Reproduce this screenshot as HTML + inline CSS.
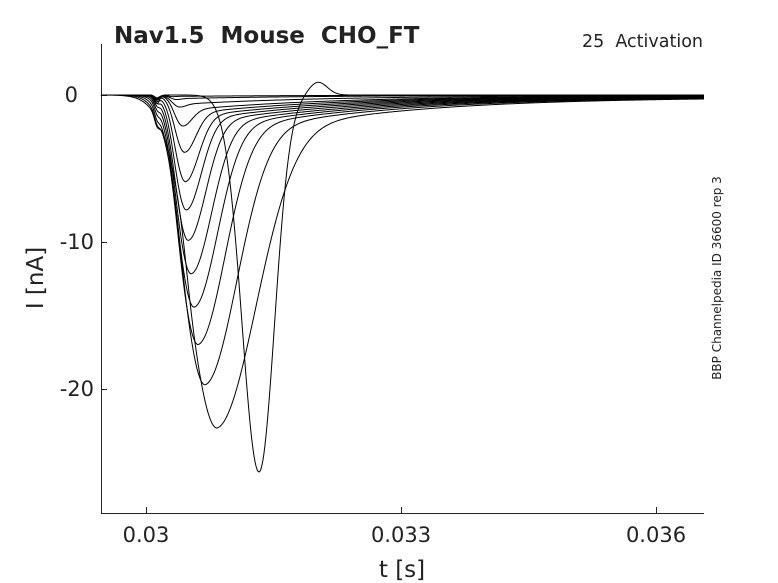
<!DOCTYPE html>
<html><head><meta charset="utf-8"><style>
body{margin:0;background:#fff}
svg{display:block}
text{font-family:"DejaVu Sans","Liberation Sans",sans-serif;fill:#222;white-space:pre}
</style></head><body>
<svg id="s" width="778" height="583" viewBox="0 0 778 583" xmlns="http://www.w3.org/2000/svg" xml:space="preserve">
<rect width="778" height="583" fill="#fff"/>
<g stroke="#262626" stroke-width="1" fill="none">
<line x1="101.5" y1="44" x2="101.5" y2="513.5"/>
<line x1="101" y1="513.5" x2="704" y2="513.5"/>
<line x1="101" y1="95.5" x2="107" y2="95.5"/>
<line x1="101" y1="242.5" x2="107" y2="242.5"/>
<line x1="101" y1="389.5" x2="107" y2="389.5"/>
<line x1="146.5" y1="513" x2="146.5" y2="507"/>
<line x1="401.5" y1="513" x2="401.5" y2="507"/>
<line x1="656.5" y1="513" x2="656.5" y2="507"/>
</g>
<g font-size="21" text-anchor="end">
<text x="78" y="102">0</text>
<text x="94" y="249">-10</text>
<text x="94" y="396">-20</text>
</g>
<g font-size="21" text-anchor="middle">
<text x="146" y="542">0.03</text>
<text x="401" y="542">0.033</text>
<text x="656" y="542">0.036</text>
<text x="402" y="577" font-size="23">t [s]</text>
</g>
<text transform="translate(43,278) rotate(-90)" font-size="23" text-anchor="middle">I [nA]</text>
<text x="114" y="43" font-size="23" font-weight="bold" fill="#000">Nav1.5  Mouse  CHO_FT</text>
<text x="703" y="47" font-size="17.5" text-anchor="end">25  Activation</text>
<text transform="translate(721,278) rotate(-90)" font-size="12" text-anchor="middle" fill="#000">BBP Channelpedia ID 36600 rep 3</text>
<g id="c" stroke="#000" stroke-width="1" fill="none"></g>
</svg>
<script>
var peaks=[[172,97],[175,100],[178,108],[182,127],[184,153],[185,182],[186,210],[188,240],[191,273],[194,306],[198,343],[205,383],[217,426],[259,472]];
var g=document.getElementById('c'),html='';
peaks.forEach(function(p,i){
 var px=p[0],D=p[1]-95,last=i==peaks.length-1;
 var T=Math.min(D*0.7,4+3.6*i);
 var wl=last?24:6+0.04*D+(px-175)*0.45;
 var wr=last?22:(10+0.07*D+(px-180)*0.6);
 var d='M101,95';
 for(var x=101;x<=704;x+=1){
  var y=95;
  var w=x<px?wl:wr;
  var F=D-T;
  if(!last){
   var s=1/(1+Math.exp(-(x-px+wl*0.8)/4));
   y+=F*Math.exp(-Math.pow((x-px)/w,2));
   y+=T*s*Math.exp(-Math.max(0,x-px)/150)+ 2.5*i/14*s;
  } else {
   y+=D*Math.exp(-Math.pow((x-px)/w,2));
   y-=13*Math.exp(-Math.pow((x-318)/13,2));
  }
  y+=9*Math.exp(-Math.pow((x-157)/3.5,2))*(0.3+0.7*i/14);
  d+=' L'+x+','+y.toFixed(2);
 }
 html+='<path d="'+d+'"/>';
});
g.innerHTML=html;
</script>
</body></html>
